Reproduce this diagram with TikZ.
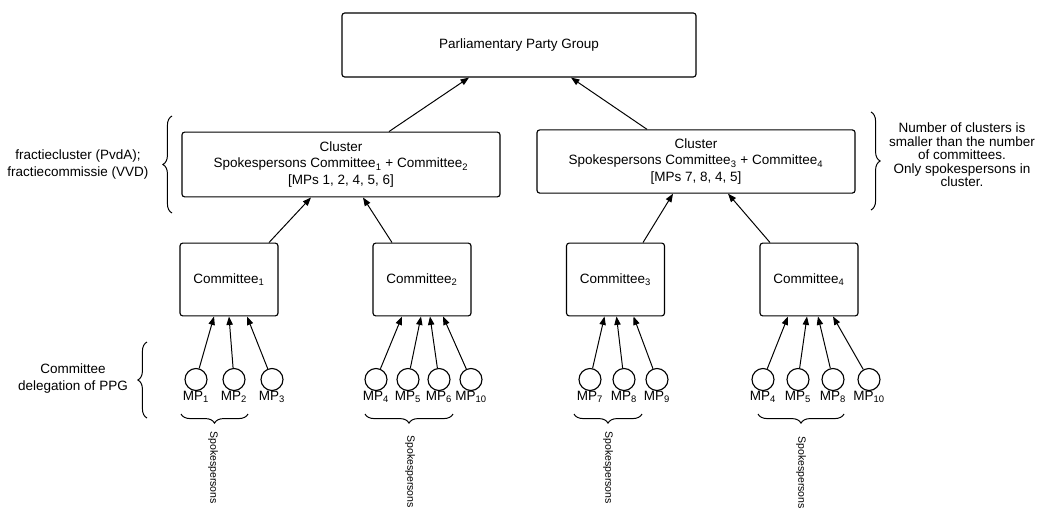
\documentclass[tikz,border=0pt]{standalone}
\usepackage{fontspec}
\setmainfont{Liberation Sans}
\usetikzlibrary{positioning, calc, arrows.meta, decorations.pathreplacing}

\begin{document}
\begin{tikzpicture}[x=0.025cm, y=-0.025cm,
                    every node/.style={font=\fontsize{9.6}{11.5}\selectfont, inner sep=0pt},
                    block/.style={draw, rounded corners=2pt, line width=0.8pt, align=center},
                    member/.style={circle, draw, line width=0.8pt, minimum size=0.55cm, label distance=2.5pt},
                    link/.style={-{Triangle[length=6pt, width=4.5pt]}, line width=0.7pt},
                    curly/.style={decorate, decoration={brace, amplitude=6.5pt}, line width=0.7pt}]

                    \useasboundingbox (0,0) rectangle (1038,507);

                    % Nodes
                    \node[block, minimum width=8.85cm, minimum height=1.6cm] (ppg) at (519,45) {Parliamentary Party Group};
                    \node[block, minimum width=7.95cm, minimum height=1.62cm] (cl1) at (341,164.5) {Cluster\\Spokespersons Committee\textsubscript{1} + Committee\textsubscript{2}\\{}[MPs 1, 2, 4, 5, 6]};
                    \node[block, minimum width=7.95cm, minimum height=1.58cm] (cl2) at (696,161.5) {Cluster\\Spokespersons Committee\textsubscript{3} + Committee\textsubscript{4}\\{}[MPs 7, 8, 4, 5]};

                    \node[block, minimum width=2.45cm, minimum height=1.82cm] (c1) at (229,279.5) {Committee\textsubscript{1}};
                    \node[block, minimum width=2.45cm, minimum height=1.82cm] (c2) at (422,279.5) {Committee\textsubscript{2}};
                    \node[block, minimum width=2.45cm, minimum height=1.82cm] (c3) at (615.5,279.5) {Committee\textsubscript{3}};
                    \node[block, minimum width=2.45cm, minimum height=1.82cm] (c4) at (809,279.5) {Committee\textsubscript{4}};

                    % MPs per committee
                    \node[member, label={[name=t1]below:MP\textsubscript{1}}] (m1) at (196,379.5) {};
                    \node[member, label={[name=t2]below:MP\textsubscript{2}}] (m2) at (234,379.5) {};
                    \node[member, label={[name=t3]below:MP\textsubscript{3}}] (m3) at (272,379.5) {};

                    \node[member, label={[name=t4]below:MP\textsubscript{4}}] (m4) at (376,379.5) {};
                    \node[member, label={[name=t5]below:MP\textsubscript{5}}] (m5) at (408,379.5) {};
                    \node[member, label={[name=t6]below:MP\textsubscript{6}}] (m6) at (439,379.5) {};
                    \node[member, label={[name=t10]below:MP\textsubscript{10}}] (m10) at (471,379.5) {};

                    \node[member, label={[name=u7]below:MP\textsubscript{7}}] (n7) at (590,379.5) {};
                    \node[member, label={[name=u8]below:MP\textsubscript{8}}] (n8) at (624,379.5) {};
                    \node[member, label={[name=u9]below:MP\textsubscript{9}}] (n9) at (657,379.5) {};

                    \node[member, label={[name=v4]below:MP\textsubscript{4}}] (p4) at (763,379.5) {};
                    \node[member, label={[name=v5]below:MP\textsubscript{5}}] (p5) at (798,379.5) {};
                    \node[member, label={[name=v8]below:MP\textsubscript{8}}] (p8) at (833,379.5) {};
                    \node[member, label={[name=v10]below:MP\textsubscript{10}}] (p10) at (869,379.5) {};

                    % Side notes
                    \node[align=center] (note1) at (78,164.5) {fractiecluster (PvdA);\\fractiecommissie (VVD)};
                    \node[align=center, font=\fontsize{9.6}{9.6}\selectfont] (note2) at (962,155) {Number of clusters is\\smaller than the number\\of committees.\\Only spokespersons in\\cluster.};
                    \node[align=center] (note3) at (73,378.5) {Committee\\delegation of PPG};

                    % Spokespersons
                    \node[rotate=-90, anchor=west, font=\fontsize{7.5}{9}\selectfont] (s1) at (213,431) {Spokespersons};
                    \node[rotate=-90, anchor=west, font=\fontsize{7.5}{9}\selectfont] (s2) at (410,435) {Spokespersons};
                    \node[rotate=-90, anchor=west, font=\fontsize{7.5}{9}\selectfont] (s3) at (608,431) {Spokespersons};
                    \node[rotate=-90, anchor=west, font=\fontsize{7.5}{9}\selectfont] (s4) at (801,436) {Spokespersons};

                    % Edges
                    % clusters to PPG
                    \draw[link] ($(cl1.north)+(48,0)$) -- ($(ppg.south)+(-50,0)$);
                    \draw[link] ($(cl2.north)+(-49,0)$) -- ($(ppg.south)+(52,0)$);

                    % committees to clusters
                    \draw[link] ($(c1.north)+(40,0)$) -- ($(cl1.south)+(-30,0)$);
                    \draw[link] ($(c2.north)+(-30,0)$) -- ($(cl1.south)+(22,0)$);
                    \draw[link] ($(c3.north)+(27.5,0)$) -- ($(cl2.south)+(-23,0)$);
                    \draw[link] ($(c4.north)+(-39,0)$) -- ($(cl2.south)+(32,0)$);

                    % MPs to committee 1
                    \draw[link] (m1) -- ($(c1.south)+(-15,0)$);
                    \draw[link] (m2) -- ($(c1.south)+(0,0)$);
                    \draw[link] (m3) -- ($(c1.south)+(18,0)$);

                    % MPs to committee 2
                    \draw[link] (m4) -- ($(c2.south)+(-20,0)$);
                    \draw[link] (m5) -- ($(c2.south)+(-1,0)$);
                    \draw[link] (m6) -- ($(c2.south)+(8,0)$);
                    \draw[link] (m10) -- ($(c2.south)+(21,0)$);

                    % MPs to committee 3
                    \draw[link] (n7) -- ($(c3.south)+(-11,0)$);
                    \draw[link] (n8) -- ($(c3.south)+(1,0)$);
                    \draw[link] (n9) -- ($(c3.south)+(18,0)$);

                    % MPs to committee 4
                    \draw[link] (p4) -- ($(c4.south)+(-21,0)$);
                    \draw[link] (p5) -- ($(c4.south)+(-2,0)$);
                    \draw[link] (p8) -- ($(c4.south)+(9,0)$);
                    \draw[link] (p10) -- ($(c4.south)+(24,0)$);

                    % Braces
                    \draw[curly] (172,213) -- (172,116);
                    \draw[curly] (871,112) -- (871,210);
                    \draw[curly] (147,418) -- (147,342);
                    \draw[curly] (248,414) -- (181,414);
                    \draw[curly] (453,414) -- (365,414);
                    \draw[curly] (642,414) -- (574,414);
                    \draw[curly] (844,414) -- (758,414);

                \end{tikzpicture}
\end{document}
